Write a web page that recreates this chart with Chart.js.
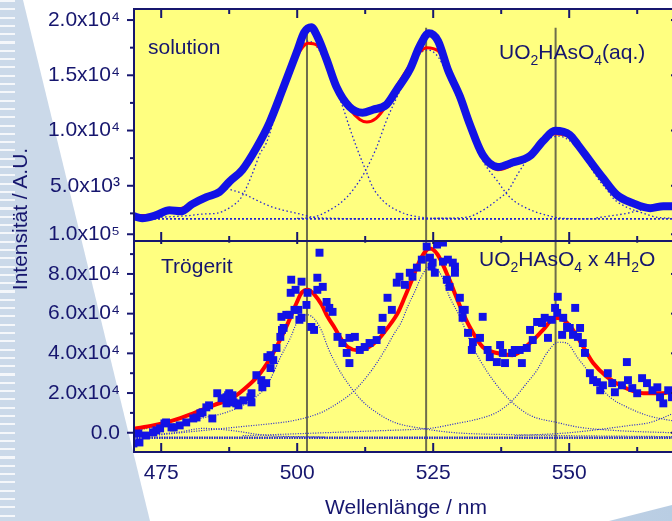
<!DOCTYPE html>
<html>
<head>
<meta charset="utf-8">
<script src="https://cdn.jsdelivr.net/npm/chart.js@4.4.0/dist/chart.umd.min.js"></script>
<style>
  html, body { margin: 0; padding: 0; }
  body { width: 672px; height: 521px; overflow: hidden; position: relative; background: #fff;
         font-family: "Liberation Sans", Arial, sans-serif; color: #16166e; }
  #band { position: absolute; left: 0; top: 0; width: 672px; height: 521px; background: #cbd9e9;
          clip-path: polygon(0 0, 23px 0, 150px 521px, 0 521px); }
  #stripes { position: absolute; left: 0; top: 0; width: 15px; height: 521px;
             background: repeating-linear-gradient(to bottom, rgba(255,255,255,0.8) 0 2px, transparent 2px 8.3px); }
  #swoosh { position: absolute; left: 0; top: 0; width: 672px; height: 521px;
            background: linear-gradient(to right, #e3ebf4, #b9cde3);
            clip-path: polygon(609px 521px, 672px 505px, 672px 521px); }
  #wrap { position: absolute; left: 0; top: 0; width: 700px; height: 521px; }
  .lbl { position: absolute; font-size: 21px; white-space: nowrap; line-height: 24px; }
  .lbl sub { font-size: 14px; vertical-align: -6px; line-height: 0; }
</style>
</head>
<body>
<div id="band"></div>
<div id="stripes"></div>
<div id="swoosh"></div>
<div id="wrap"><canvas id="chart" width="700" height="521"></canvas></div>
<div class="lbl" style="left:-80px; top:207px; width:200px; text-align:center; transform:rotate(-90deg);">Intensität / A.U.</div>
<div class="lbl" style="left:306px; top:495px; width:200px; text-align:center;">Wellenlänge / nm</div>
<div class="lbl" style="left:148px; top:35px;">solution</div>
<div class="lbl" style="left:161px; top:254px;">Trögerit</div>
<div class="lbl" style="left:499px; top:40px;">UO<sub>2</sub>HAsO<sub>4</sub>(aq.)</div>
<div class="lbl" style="left:479px; top:247px;">UO<sub>2</sub>HAsO<sub>4</sub> x 4H<sub>2</sub>O</div>
<script>
// axes
const xMin = 470, xMax = 570;
const xMajor = [475, 500, 525, 550];
const xMinor = [487.5, 512.5, 537.5, 562.5];
const topTicks = [5000, 10000, 15000, 20000];
const topTickLabels = ['5.0x10³', '1.0x10⁴', '1.5x10⁴', '2.0x10⁴'];
const topMinor = [2500, 7500, 12500, 17500];
const botTicks = [0, 20000, 40000, 60000, 80000, 100000];
const botTickLabels = ['0.0', '2.0x10⁴', '4.0x10⁴', '6.0x10⁴', '8.0x10⁴', '1.0x10⁵'];
const botMinor = [10000, 30000, 50000, 70000, 90000];
const peakLines = [501.8, 523.7, 547.5];
const peakLineTop = 19300;

// solution spectrum (nm, intensity)
const solution = [[469.9,2250],[471.5,2060],[474.1,2340],[476.5,2790],[478.7,2700],[480.7,3340],[483.3,3970],
  [485.7,4430],[487.6,5400],[489.9,6430],[492.5,8430],[494.9,10700],[497.3,13700],[499.9,17060],[501.3,18880],
  [502.6,19340],[503.7,18520],[505.4,16430],[507.2,13970],[509.6,12150],[512.0,11610],[513.9,11880],[516.4,12340],
  [518.3,13700],[520.7,15520],[522.5,17610],[524.2,18800],[525.9,18100],[527.7,15500],[529.9,13100],[531.7,10600],
  [534.1,7790],[536.9,6700],[539.6,7100],[542.8,7700],[545.2,9060],[547.4,9970],[550.1,9610],[551.6,8700],
  [553.8,7250],[556.2,5700],[558.8,4150],[561.7,3430],[564.9,2970],[567.3,3150],[570,3150]];
const solutionFit = [[470,2300],[472,2300],[474.5,2450],[476.5,2750],[479,3000],[481,3350],[483.3,3900],[485.7,4500],
  [487.6,5300],[489.9,6500],[492.5,8500],[494.9,10800],[497.3,13700],[499.9,16700],[502,17900],[503.7,17700],
  [505.4,16300],[507.2,14200],[509.6,12000],[511.5,11000],[512.8,10770],[514.5,11100],[516.4,12300],[518.3,14000],
  [520.7,15900],[522.5,17100],[523.8,17500],[525.9,17200],[527.7,15500],[529.9,12900],[531.7,10500],[534.1,7800],
  [536.9,6450],[539.6,6900],[542.8,7900],[545.2,9000],[547.4,9700],[550.1,9400],[551.6,8600],[553.8,7100],
  [556.2,5500],[558.8,4100],[561.7,3400],[564.9,3000],[567.3,3050],[570,3100]];
const solBase = [[470,2000],[570,2000]];
const solPeakA = [[472,2100],[476,2500],[480,3200],[483,3900],[486.5,4800],[488,4600],[490,4300],[492.5,3700],
  [495,3150],[497.5,2780],[500,2500],[503,2150],[507,2050],[512,2000]];
const solPeakB = [[475,2150],[480,2300],[483,2450],[485.2,2510],[487.7,3050],[489.6,3860],[490.7,4860],[492,6400],
  [493.2,7940],[494.3,8840],[496,11400],[498,14500],[500,17000],[502,18100],[504,17300],[506,15000],[508.4,12100],
  [509.6,10300],[510.9,8500],[512.6,6400],[513.9,4860],[515.7,3680],[518.3,2780],[522,2200],[527,2050],[540,2000]];
const solPeakC = [[500,2050],[502.8,2140],[505.9,2780],[509.1,3950],[511.5,5490],[512.6,6400],[514.6,8480],
  [516.4,10900],[518.5,13200],[520.5,15300],[522.5,16900],[524,17300],[526,16600],[528,14600],[530,12300],
  [532,9900],[534.1,7300],[536.7,5490],[539.1,3950],[542.2,2960],[545.9,2330],[548.9,2050],[555,2000]];
const solPeakD = [[525,2050],[531.2,2150],[534.1,2780],[536.7,3680],[538.8,4590],[540.6,6110],[542.2,7300],
  [544,8400],[546,9200],[548,9500],[550,9100],[552,8100],[554,6600],[555.5,5500],[557,4590],[558.1,3860],
  [560.6,3050],[563.6,2510],[566.2,2140],[570,2050]];
const solPeakE = [[555,2100],[560,2450],[564,2850],[567,2950],[570,2900]];

// Trögerit spectrum (nm, intensity)
const troegerit = [[469.9,-5400],[471.0,-4900],[472.2,-1400],[474.1,1200],[475.6,4700],[476.9,2700],[478.4,3700],
  [479.6,5200],[481.5,7700],[482.6,10300],[483.8,13800],[484.4,7200],[485.3,19900],[487.0,17900],[487.5,19900],
  [488.8,14800],[470.8,-350],[473.5,150],[474.8,2200],[475.9,5200],[477.3,2700],[480.9,7200],[482.2,9800],
  [483.3,12800],[486.1,17400],[487.3,18900],[487.0,14800],[488.3,15300],[489.2,13800],[490.1,16300],[491.4,17900],
  [491.6,15300],[492.5,29000],[493.4,26500],[494.3,25000],[495.1,32600],[495.6,36600],[495.1,39100],[496.2,42700],
  [496.9,48300],[497.5,52800],[497.1,58400],[498.0,59400],[498.8,70500],[498.9,77100],[499.7,72000],[500.2,61900],
  [500.8,57900],[488.1,18900],[491.6,19900],[493.6,22900],[494.5,38100],[497.2,51800],[498.6,59400],[499.5,61900],
  [500.4,56900],[500.8,76100],[501.7,64400],[501.9,70500],[502.6,53300],[503.1,51800],[503.7,78100],[504.1,90700],
  [503.7,72000],[504.7,73500],[505.4,65900],[505.9,62900],[506.5,60900],[507.4,48300],[508.3,45200],[509.1,40200],
  [509.6,35100],[509.6,47800],[510.6,48300],[511.5,41700],[512.4,43200],[513.3,45200],[514.6,46700],[515.5,51800],
  [515.7,57900],[516.6,68000],[517.4,61900],[518.3,75600],[518.8,78600],[519.8,74500],[520.7,80600],[521.2,78600],
  [522.0,83200],[522.9,87200],[523.8,93800],[524.4,88200],[524.7,83700],[525.7,94800],[526.8,86200],[527.5,77100],
  [528.0,73500],[529.0,83700],[529.9,68000],[530.4,61900],[531.4,50300],[524.9,85700],[525.3,80600],[526.8,95800],
  [527.7,87200],[528.6,85700],[529.0,80600],[530.8,61900],[530.4,57900],[532.3,45700],[532.1,41700],[533.6,47800],
  [534.1,58400],[535.0,41700],[535.4,38100],[536.7,35600],[537.3,44200],[537.8,40200],[538.2,35100],[539.5,40200],
  [540.0,41700],[540.9,41700],[541.3,35100],[542.2,42700],[542.8,51800],[543.3,46700],[544.1,55800],[545.0,55300],
  [545.5,57900],[546.1,47800],[546.8,56900],[547.4,62900],[547.9,68500],[547.8,60400],[548.7,49300],[548.9,57900],
  [549.6,53300],[550.1,52800],[550.7,49300],[551.1,62900],[551.6,48300],[552.0,52800],[552.5,45200],[552.9,40200],
  [553.8,30000],[554.4,26500],[555.1,25500],[555.7,21400],[556.2,23900],[557.1,30000],[557.9,25000],[558.4,20400],
  [559.7,23900],[560.6,35600],[560.8,26500],[561.6,22500],[562.5,19900],[563.4,27500],[564.3,25000],[565.3,21400],
  [566.2,22900],[566.7,17900],[567.3,14800],[568.2,21400],[568.9,17900]];
const troegeritFit = [[470,2000],[473.5,3700],[477.2,6200],[480.9,9800],[484.6,13800],[488.3,17900],[490.7,23000],
  [493.2,30000],[495.6,40200],[498,53400],[499.9,65500],[500.8,70500],[501.9,72100],[503.2,69500],[504.5,64500],
  [505.6,58400],[506.9,52800],[508.2,46700],[509.3,43200],[511.1,41600],[512.9,42700],[514.8,46700],[516.6,52800],
  [518.5,60400],[519.8,68500],[521.1,77100],[522.2,84700],[523.4,90800],[524.4,92800],[525.8,89800],[528,77000],
  [529,70000],[529.9,64000],[531.7,53400],[534.1,43200],[536.7,40200],[539.6,39100],[542.8,45200],[545.2,51800],
  [547.4,57900],[548.9,56900],[550.7,51800],[552.6,43200],[554.4,35100],[557,28000],[560,23000],[563.6,19900],
  [567.3,19900],[570,21900]];
const troBase1 = [[470,-2300],[570,-2300]];
const troBase2 = [[470,-2800],[570,-2800]];
const troPeakP = [[470,1200],[476,3700],[482.2,7200],[487,10300],[490.7,14800],[493.2,19900],[494.3,23000],
  [495.6,30000],[496.9,38000],[498.8,48100],[499.9,55200],[501.9,59400],[503.2,57200],[504.5,51300],[505.6,43200],
  [507.4,33100],[509.3,25000],[511.8,16400],[514.8,9800],[517.9,5200],[522.9,2200],[528.4,150],[540,-1000],[570,-2000]];
const troPeakQ = [[470,-2400],[479.1,150],[488.3,2700],[495.6,4700],[499.5,6200],[504.5,10300],[507.4,14800],
  [510,19900],[511.8,25000],[513.7,31500],[516.1,41600],[517.9,50300],[519.2,56000],[520.3,63500],[521.6,71000],
  [522.9,79000],[524.3,84000],[526.2,80700],[528,68500],[529.9,58400],[531.7,46700],[533.6,36600],[536,26500],
  [539.1,16400],[542.8,8800],[547.7,5200],[552,2700],[558.1,1200],[567.3,150],[570,0]];
const troPeakR = [[490,-1500],[505,0],[515,1000],[520,1500],[524.4,2200],[529.4,4700],[533.6,7200],[536.7,10300],
  [539.6,16400],[542.2,25000],[544.1,31600],[545.9,40200],[548,45600],[549.6,45100],[551.5,38000],[553.3,31600],
  [555.1,25000],[557.5,17900],[560.7,12800],[564.4,8700],[570,5500]];
const troPeakS = [[540,-1500],[550,0],[555,1500],[561.2,3700],[564.9,5200],[570,10800]];
const troPeakT = [[470,-1500],[477.8,150],[482.8,2200],[487.7,1200],[494.3,-1300],[505,-2200]];

const navy = '#16166e';
const blue = '#1212e6';
const dotBlue = '#2424d4';
const font = { family: '"Liberation Sans", Arial, sans-serif', size: 21 };

const pts = arr => arr.map(p => ({ x: p[0], y: p[1] }));

function curve(data, axis, color, width, dash) {
  return {
    data: pts(data), yAxisID: axis, borderColor: color, borderWidth: width,
    borderDash: dash || [], pointRadius: 0, fill: false, clip: 0,
    cubicInterpolationMode: 'monotone', borderJoinStyle: 'round'
  };
}

const datasets = [
  curve(solution, 'yTop', blue, 8),
  curve(solutionFit, 'yTop', '#ff0000', 3),
  {
    data: pts(troegerit), yAxisID: 'yBot', showLine: false, pointStyle: 'rect',
    pointRadius: 5.6, pointBackgroundColor: blue, pointBorderWidth: 0, clip: 0
  },
  curve(troegeritFit, 'yBot', '#ff0000', 4),
  curve(solBase, 'yTop', dotBlue, 1.6, [2, 2]),
  curve(solPeakA, 'yTop', dotBlue, 1.3, [1.5, 2.5]),
  curve(solPeakB, 'yTop', dotBlue, 1.3, [1.5, 2.5]),
  curve(solPeakC, 'yTop', dotBlue, 1.3, [1.5, 2.5]),
  curve(solPeakD, 'yTop', dotBlue, 1.3, [1.5, 2.5]),
  curve(solPeakE, 'yTop', dotBlue, 1.3, [1.5, 2.5]),
  curve(troBase1, 'yBot', dotBlue, 1.6, [1.5, 1]),
  curve(troBase2, 'yBot', dotBlue, 1.6, [1.5, 1]),
  curve(troPeakP, 'yBot', dotBlue, 1.2, [1, 1.5]),
  curve(troPeakQ, 'yBot', dotBlue, 1.2, [1, 1.5]),
  curve(troPeakR, 'yBot', dotBlue, 1.2, [1, 1.5]),
  curve(troPeakS, 'yBot', dotBlue, 1.2, [1, 1.5]),
  curve(troPeakT, 'yBot', dotBlue, 1.2, [1, 1.5])
];

function seg(ctx, x1, y1, x2, y2) {
  ctx.beginPath(); ctx.moveTo(x1, y1); ctx.lineTo(x2, y2); ctx.stroke();
}

const panelPlugin = {
  id: 'panels',
  beforeDatasetsDraw(chart) {
    const { ctx, chartArea: a, scales } = chart;
    ctx.save();
    ctx.fillStyle = '#ffff80';
    ctx.fillRect(a.left, a.top, a.right - a.left, a.bottom - a.top);
    ctx.strokeStyle = '#6e6e4c';
    ctx.lineWidth = 2;
    const y0 = scales.yTop.getPixelForValue(peakLineTop);
    peakLines.forEach(nm => {
      const px = scales.x.getPixelForValue(nm);
      seg(ctx, px, y0, px, a.bottom);
    });
    ctx.restore();
  },
  afterDatasetsDraw(chart) {
    const { ctx, chartArea: a, scales } = chart;
    const sep = scales.yTop.bottom;
    ctx.save();
    ctx.strokeStyle = navy;
    ctx.lineWidth = 2;
    ctx.strokeRect(a.left, a.top, a.right - a.left, a.bottom - a.top);
    seg(ctx, a.left, sep, a.right, sep);
    // x ticks, pointing into the panels
    const xt = (vals, len) => vals.forEach(v => {
      const px = scales.x.getPixelForValue(v);
      seg(ctx, px, a.bottom, px, a.bottom - len);
      seg(ctx, px, sep, px, sep - len);
      seg(ctx, px, a.top, px, a.top + len);
      seg(ctx, px, sep, px, sep + len / 3);
    });
    xt(xMajor, 9);
    xt(xMinor, 5);
    // y ticks, outward on the left and inward on the right
    const yt = (scale, vals, len) => vals.forEach(v => {
      const py = scale.getPixelForValue(v);
      seg(ctx, a.left - len, py, a.left, py);
      seg(ctx, a.right, py, a.right - len, py);
    });
    yt(scales.yTop, topTicks, 7);
    yt(scales.yTop, topMinor, 4);
    yt(scales.yBot, botTicks, 7);
    yt(scales.yBot, botMinor, 4);
    ctx.restore();
  }
};

const hidden = { display: false, drawTicks: false };
const noPadY = s => { s.width = 134; s.paddingTop = 0; s.paddingBottom = 0; };

new Chart(document.getElementById('chart'), {
  type: 'line',
  data: { datasets: datasets },
  options: {
    responsive: false,
    animation: false,
    layout: { padding: { top: 9, right: 22, left: 0, bottom: 0 } },
    plugins: { legend: { display: false }, tooltip: { enabled: false } },
    scales: {
      x: {
        type: 'linear', position: 'bottom', min: xMin, max: xMax,
        afterBuildTicks: s => { s.ticks = xMajor.map(v => ({ value: v })); },
        afterFit: s => { s.height = 69; s.paddingLeft = 0; s.paddingRight = 0; },
        grid: hidden, border: { display: false },
        ticks: { color: navy, font: font, padding: 9, maxRotation: 0, autoSkip: false, callback: v => String(v) }
      },
      yTop: {
        type: 'linear', position: 'left', stack: 'panels', stackWeight: 232, weight: 2,
        min: 0, max: 21000,
        afterBuildTicks: s => { s.ticks = topTicks.map(v => ({ value: v })); },
        afterFit: noPadY,
        grid: hidden, border: { display: false },
        ticks: { color: navy, font: font, padding: 14, autoSkip: false, callback: (v, i) => topTickLabels[i] }
      },
      yBot: {
        type: 'linear', position: 'left', stack: 'panels', stackWeight: 211, weight: 1,
        min: -9700, max: 96600,
        afterBuildTicks: s => { s.ticks = botTicks.map(v => ({ value: v })); },
        afterFit: noPadY,
        grid: hidden, border: { display: false },
        ticks: { color: navy, font: font, padding: 14, autoSkip: false, callback: (v, i) => botTickLabels[i] }
      }
    }
  },
  plugins: [panelPlugin]
});
</script>
</body>
</html>
